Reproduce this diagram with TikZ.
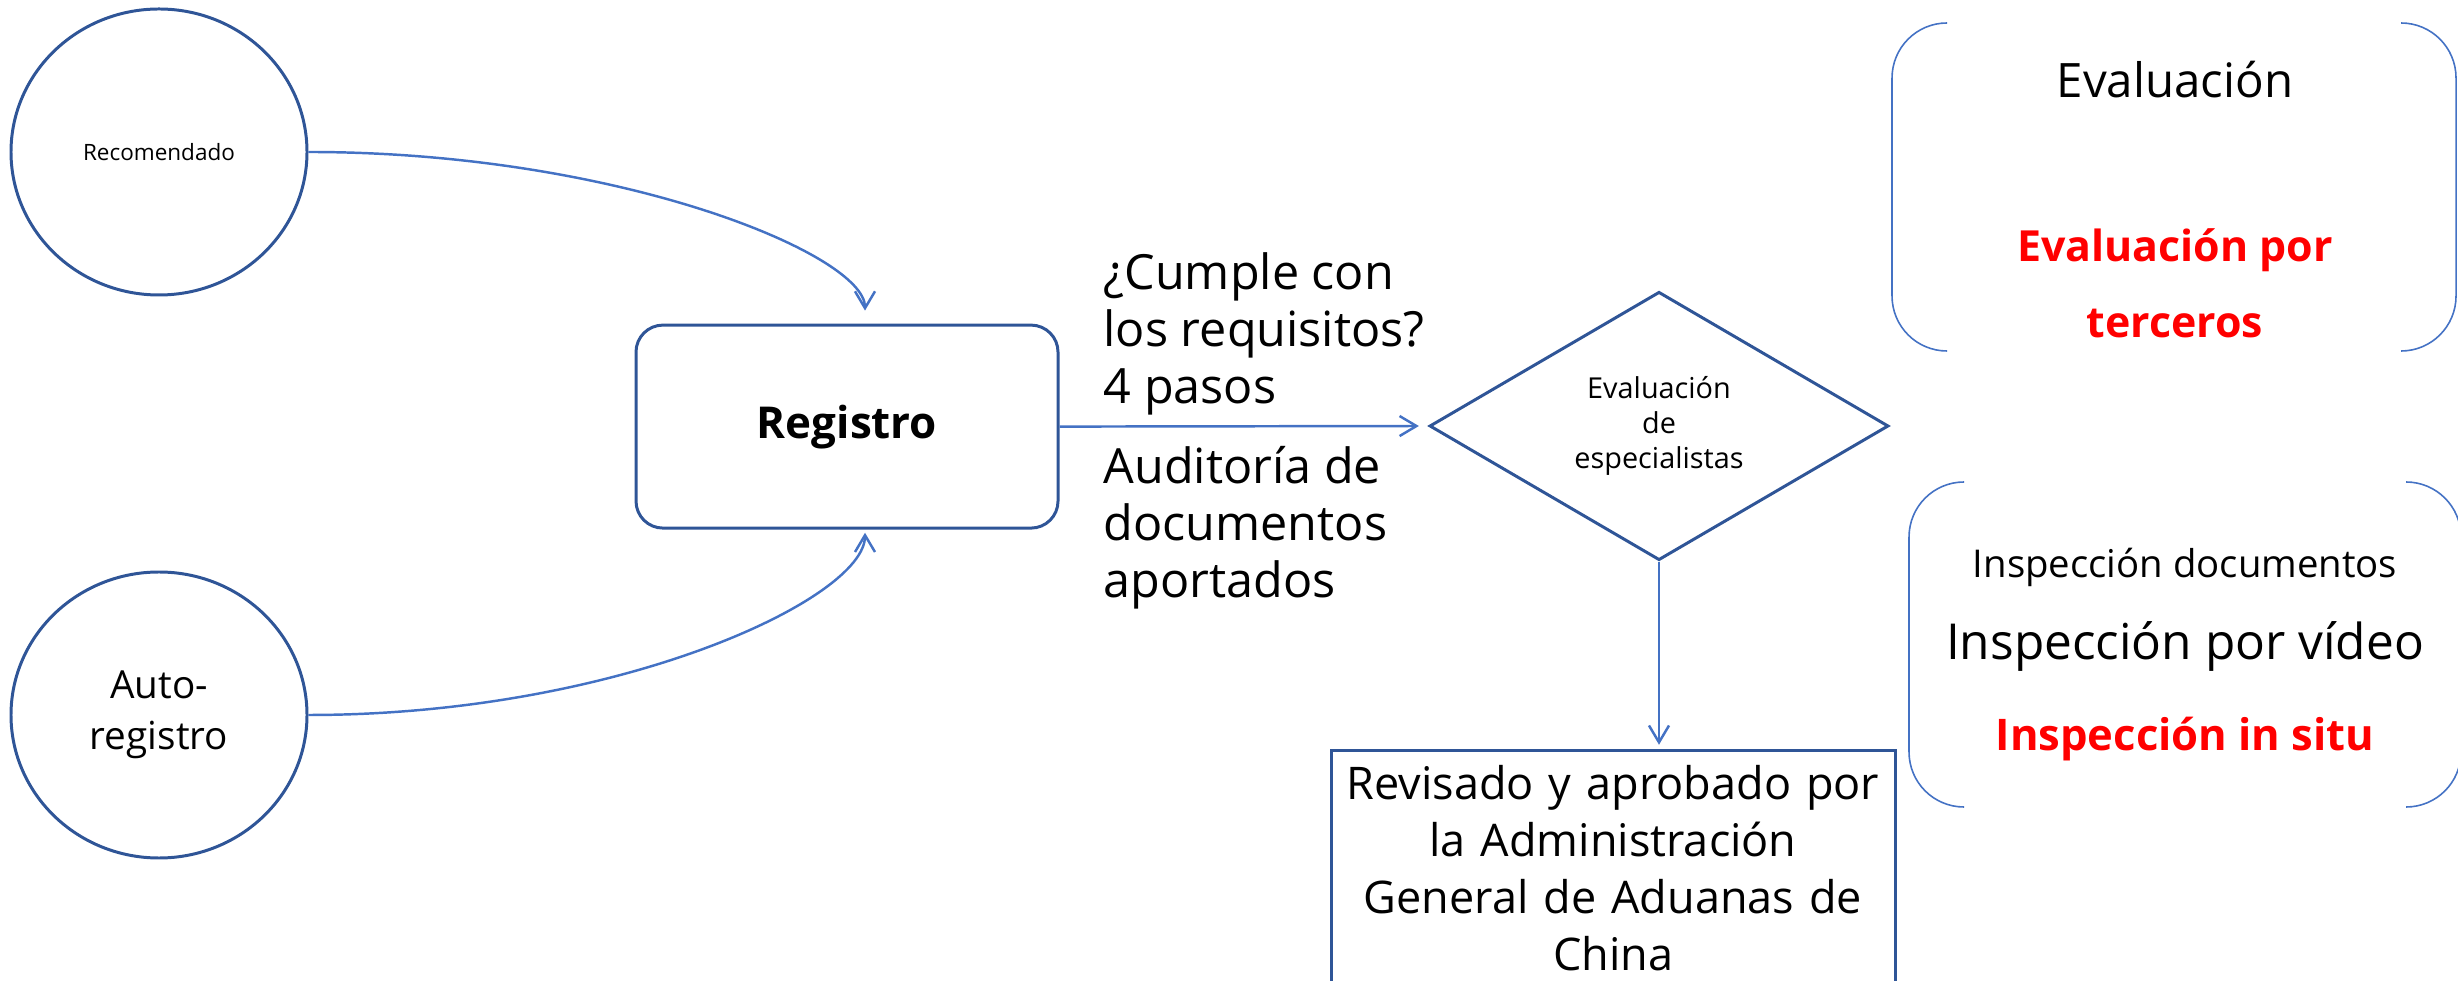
\documentclass[tikz,border=0pt]{standalone}
\usepackage{fontspec}
\setmainfont{Open Sans}
\usetikzlibrary{shapes.geometric,arrows.meta}
\definecolor{nodeblue}{RGB}{47,85,151}
\definecolor{linkblue}{RGB}{68,114,196}
\definecolor{evalred}{RGB}{255,0,0}

\begin{document}
\begin{tikzpicture}[scale=0.2]
\tikzstyle{every node}+=[inner sep=0pt]
\tikzstyle{source}=[draw=nodeblue, line width=0.85pt, ellipse, minimum width=2.96cm, minimum height=2.86cm, align=center]
\tikzstyle{link}=[draw=linkblue, line width=0.7pt, -{Straight Barb[length=4.8pt,width=5.7pt]}]
\tikzstyle{bracket}=[draw=linkblue, line width=0.45pt, rounded corners=0.55cm]
\clip (0,0) rectangle (122.9,-49.05);
\node [source, font=\fontsize{6.4}{8}\selectfont] (rec) at (7.95,-7.6) {Recomendado};
\node [source, font=\fontsize{11}{14.4}\selectfont] (auto) at (7.95,-35.75) {Auto-\\registro};
\node [draw=nodeblue, line width=0.85pt, rounded corners=0.27cm, minimum width=4.22cm, minimum height=2.03cm, font=\fontsize{12.5}{15}\selectfont\bfseries] (reg) at (42.35,-21.33) {Registro};
\node [draw=nodeblue, line width=0.85pt, diamond, minimum width=4.59cm, minimum height=2.62cm, align=center, font=\fontsize{8.2}{10}\selectfont] (dia) at (82.95,-21.3) {Evaluación\\de\\especialistas};
\node [draw=nodeblue, line width=0.85pt, anchor=north, text width=5.64cm, inner ysep=4.3pt, align=center, font=\fontsize{12.8}{16.2}\selectfont] (rev) at (80.65,-37.45) {Revisado y aprobado por\\la Administración\\General de Aduanas de\\China};

%entries into Registro
\draw [link, shorten >=3.7pt] (rec.east) .. controls +(15.5,0) and +(0,3.45) .. ([shift={(0.9,0)}]reg.north);
\draw [link, shorten >=0.9pt] (auto.east) .. controls +(15.5,0) and +(0,-3.45) .. ([shift={(0.9,0)}]reg.south);
%Registro to specialists
\draw [link, shorten >=2.6pt] (reg.east) -- (dia.west);
\node [anchor=west, align=left, font=\fontsize{13.8}{16.2}\selectfont] (req) at (55.15,-16.7) {¿Cumple con\\los requisitos?\\4 pasos};
\node [anchor=west, align=left, font=\fontsize{13.8}{16.2}\selectfont] (aud) at (55.15,-26.4) {Auditoría de\\documentos\\aportados};
%specialists to approval
\draw [link, shorten >=1.2pt] (dia.south) -- (dia.south |- rev.north);

%evaluation bracket
\draw [bracket] (97.35,-1.15) -- (94.6,-1.15) -- (94.6,-17.55) -- (97.35,-17.55);
\draw [bracket] (120.1,-1.15) -- (122.8,-1.15) -- (122.8,-17.55) -- (120.1,-17.55);
\node [anchor=base, font=\fontsize{13.5}{16}\selectfont] (evaltitle) at (108.75,-4.9) {Evaluación};
\node [align=center, text=evalred, font=\fontsize{12.2}{21.6}\selectfont\bfseries] (evalthird) at (108.75,-14.15) {Evaluación por\\terceros};

%inspection bracket
\draw [bracket] (98.2,-24.1) -- (95.45,-24.1) -- (95.45,-40.35) -- (98.2,-40.35);
\draw [bracket] (120.35,-24.1) -- (123.05,-24.1) -- (123.05,-40.35) -- (120.35,-40.35);
\node [anchor=base, font=\fontsize{10.9}{13}\selectfont] (inspdoc) at (109.25,-28.9) {Inspección documentos};
\node [anchor=base, font=\fontsize{14.1}{17}\selectfont] (inspvid) at (109.25,-33.0) {Inspección por vídeo};
\node [anchor=base, text=evalred, font=\fontsize{12.4}{15}\selectfont\bfseries] (inspsitu) at (109.25,-37.5) {Inspección in situ};
\end{tikzpicture}
\end{document}
